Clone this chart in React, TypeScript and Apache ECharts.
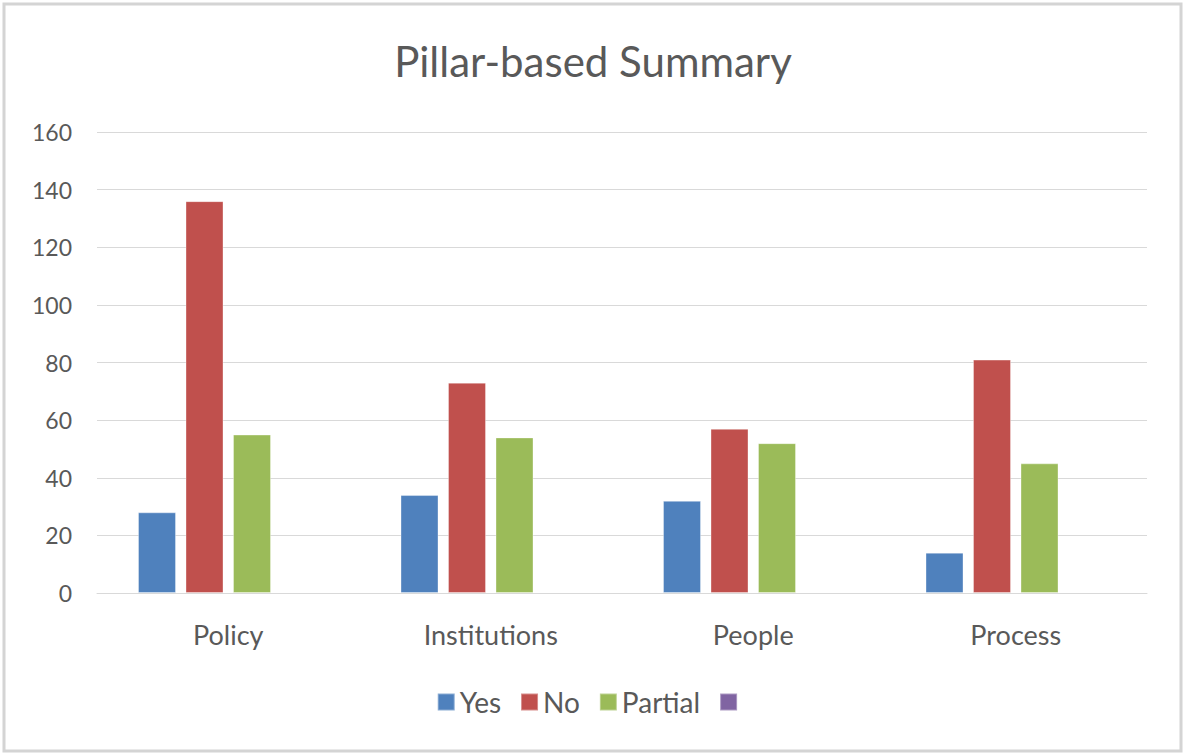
import React, { useEffect, useRef } from "react";
import * as echarts from "echarts";

const categories = ["Policy", "Institutions", "People", "Process"];
const yesValues = [28, 34, 32, 14];
const noValues = [136, 73, 57, 81];
const partialValues = [55, 54, 52, 45];
const emptyValues = [null, null, null, null];
const yTicks = { min: 0, max: 160, interval: 20 };

const FONT = "Lato";
const TEXT = "#595959";

export default function App() {
  const ref = useRef<HTMLDivElement>(null);
  useEffect(() => {
    if (!ref.current) return;
    const chart = echarts.init(ref.current, null, { renderer: "svg" });
    const bar = (name: string, data: any[], color: string) => ({
      name,
      type: "bar",
      data,
      barWidth: 38,
      barGap: "25%",
      itemStyle: { color, borderColor: "rgba(255,255,255,0.35)", borderWidth: 1 },
    });
    chart.setOption({
      animation: false,
      backgroundColor: "#ffffff",
      textStyle: { fontFamily: FONT },
      title: {
        text: "Pillar-based Summary",
        left: "center",
        top: 35,
        textStyle: { fontFamily: FONT, fontSize: 42, fontWeight: "normal", color: TEXT },
      },
      graphic: [
        {
          type: "rect",
          shape: { x: 4, y: 4, width: 1177, height: 747 },
          style: { fill: "none", stroke: "#d4d4d4", lineWidth: 3 },
          silent: true,
        },
      ],
      legend: {
        data: ["Yes", "No", "Partial", " "],
        left: "center",
        top: 683,
        icon: "rect",
        itemWidth: 17,
        itemHeight: 17,
        itemGap: 19,
        textStyle: { fontFamily: FONT, fontSize: 28, color: TEXT },
      },
      grid: { left: 97, right: 39, top: 132, height: 461, containLabel: false },
      xAxis: {
        type: "category",
        data: categories,
        axisTick: { show: false },
        axisLine: { show: true, lineStyle: { color: "#d9d9d9", width: 1 } },
        axisLabel: { fontFamily: FONT, fontSize: 27, color: TEXT, margin: 28 },
      },
      yAxis: {
        type: "value",
        min: yTicks.min,
        max: yTicks.max,
        interval: yTicks.interval,
        axisLine: { show: false },
        axisTick: { show: false },
        splitLine: { lineStyle: { color: "#d9d9d9", width: 1 } },
        axisLabel: { fontFamily: FONT, fontSize: 23, color: TEXT, margin: 25 },
      },
      series: [
        bar("Yes", yesValues, "#4F81BD"),
        bar("No", noValues, "#C0504D"),
        bar("Partial", partialValues, "#9BBB59"),
        bar(" ", emptyValues, "#8064A2"),
      ],
    });
    return () => chart.dispose();
  }, []);
  return (
    <div
      ref={ref}
      style={{ position: "absolute", left: 0, top: 0, width: 1186, height: 756 }}
    />
  );
}
